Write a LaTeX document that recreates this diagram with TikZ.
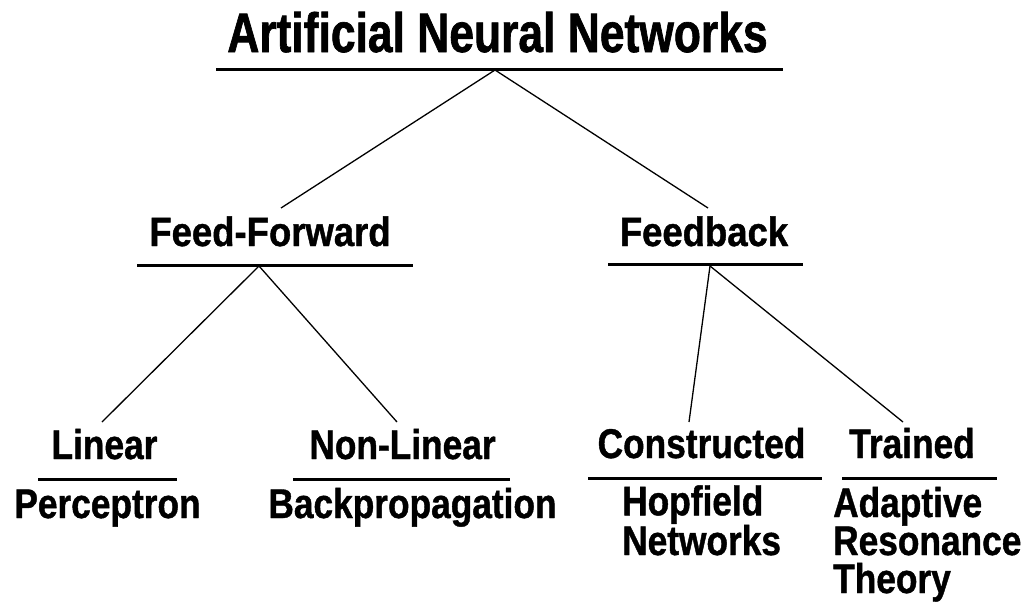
\documentclass[tikz,border=0pt]{standalone}
\usepackage{fontspec}
\setmainfont{Liberation Sans}
\newfontfamily\tfont[FakeStretch=0.80,FakeBold=1.2]{Liberation Sans}
\newfontfamily\mfont[FakeStretch=0.89,FakeBold=1]{Liberation Sans}
\newfontfamily\lfont[FakeStretch=0.85,FakeBold=1]{Liberation Sans}
\begin{document}
\begin{tikzpicture}[x=1pt,y=-1pt,
  ttl/.style={font=\tfont\bfseries\fontsize{55.5}{60}\selectfont, inner sep=0pt, anchor=base},
  mid/.style={font=\mfont\bfseries\fontsize{41}{38}\selectfont, inner sep=0pt, anchor=base},
  low/.style={font=\lfont\bfseries\fontsize{41.5}{38}\selectfont, inner sep=0pt, anchor=base},
  leaf/.style={font=\lfont\bfseries\fontsize{41.5}{38}\selectfont, inner sep=0pt, anchor=base west, align=left},
  bar/.style={line width=3pt},
  link/.style={line width=1.3pt}]
\useasboundingbox (0,0) rectangle (1032,603);
% texts
\node[ttl] (ann) at (497.5,52) {Artificial Neural Networks};
\node[mid] (ff) at (270,246) {Feed-Forward};
\node[mid] (fb) at (704,246) {Feedback};
\node[low] (lin) at (104.5,459) {Linear};
\node[low] (nlin) at (402.5,459) {Non-Linear};
\node[low] (con) at (701.5,458) {Constructed};
\node[low] (tr) at (912,458) {Trained};
\node[low] (perc) at (107.5,518) {Perceptron};
\node[low] (bp) at (412.5,518) {Backpropagation};
\node[leaf] (hop) at (622,555) {Hopfield\\Networks};
\node[leaf] (art) at (833,593) {Adaptive\\Resonance\\Theory};
% underlines
\draw[bar] (216,69) -- (783,69);
\draw[bar] (137,265) -- (413,265);
\draw[bar] (608,264) -- (803,264);
\draw[bar] (38,479) -- (177,479);
\draw[bar] (293,479) -- (510,479);
\draw[bar] (588,478) -- (822,478);
\draw[bar] (842,478) -- (997,478);
% connector anchors
\coordinate (annA) at (495,70);
\coordinate (ffT) at (281,208);
\coordinate (fbT) at (708,208);
\coordinate (ffA) at (259,266);
\coordinate (fbA) at (710,266);
\coordinate (linT) at (102,422);
\coordinate (nlinT) at (397,422);
\coordinate (conT) at (689,422);
\coordinate (trT) at (903,422);
\draw[link] (annA) -- (ffT);
\draw[link] (annA) -- (fbT);
\draw[link] (ffA) -- (linT);
\draw[link] (ffA) -- (nlinT);
\draw[link] (fbA) -- (conT);
\draw[link] (fbA) -- (trT);
\end{tikzpicture}
\end{document}
